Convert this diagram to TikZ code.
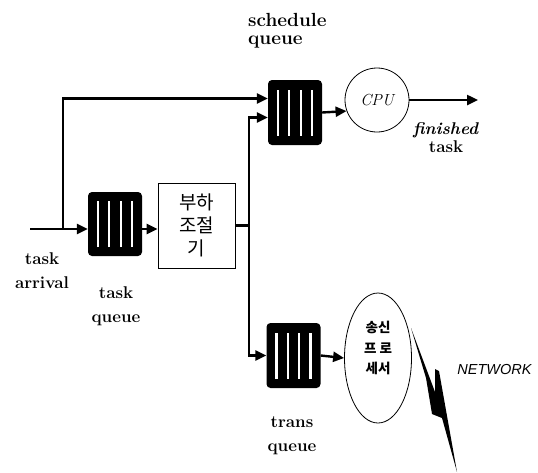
\documentclass[tikz,border=0pt]{standalone}
\usepackage{fontspec}
\newfontfamily\hangul{Noto Sans CJK KR}
\newfontfamily\netfont{Liberation Sans}
\usetikzlibrary{arrows.meta,shapes.geometric}
\tikzset{
  flow/.style={-{Triangle[length=11pt,width=10pt]},line width=2.4pt}, % connector with tip
  wire/.style={line width=2.4pt},
  queue/.style={fill=black,rounded corners=4pt,minimum width=54pt,minimum height=64pt,inner sep=0pt,
    path picture={\foreach \dx in {-17,-5.7,5.7,17}
      \draw[white,line width=2.2pt] ([xshift=\dx pt,yshift=-23pt]path picture bounding box.center) -- ++(0,46pt);}},
  station/.style={draw,line width=0.8pt,align=center,inner sep=0pt},
  lbl/.style={font=\fontsize{17}{24}\selectfont\bfseries,align=center,inner sep=0pt},
}
\begin{document}
\begin{tikzpicture}[x=1pt,y=-1pt]
\useasboundingbox (0,0) rectangle (538,472);

\node[queue] (taskq) at (115,224) {};
\node[queue,minimum height=65pt] (schedq) at (295,112.5) {};
\node[queue,minimum height=65pt] (transq) at (293.5,355.5) {};
\node[station,minimum width=77pt,minimum height=85pt,font=\hangul\fontsize{19}{23}\selectfont] (ctrl) at (196.5,225.5) {부하\\조절\\기};
\node[station,circle,minimum size=64pt,font=\fontsize{16}{18}\selectfont\itshape] (cpu) at (377,100) {CPU};
\node[station,ellipse,minimum width=67pt,minimum height=130pt,
  label={[align=center,yshift=10pt,font=\hangul\fontsize{13.5}{20.5}\selectfont\bfseries]center:송신\\프 로\\세서}] (sender) at (378,358) {};

\coordinate (arrival) at (30,229);
\coordinate (split) at (63,229);
\coordinate (bus) at (249,225.5);
\coordinate (done) at (478,100);

\draw[flow] (arrival) -- (taskq.west |- arrival);
\draw[flow] (split) |- ([yshift=14pt]schedq.west);
\draw[flow] (taskq.east |- arrival) -- (ctrl.west |- arrival);
\draw[wire] (ctrl.east) -- (bus);
\draw[flow] (bus) |- ([yshift=-5pt]schedq.west);
\draw[flow] (bus) |- (transq.west);
\draw[flow] (schedq.east) -- (cpu.200);
\draw[flow] (cpu.east) -- (done);
\draw[flow] (transq.east) -- (sender.west);

% network link
\fill (411,328) -- (435,392) -- (435,369) -- (439,371) -- (457,472) -- (442,418) -- (432,414) -- (426,378) -- cycle;

\node[lbl,font=\fontsize{19}{18}\selectfont\bfseries,anchor=north west,align=left] (schedlbl) at (248,13) {schedule\\queue};
\node[lbl] (arrlbl) at (42,271) {task\\arrival};
\node[lbl] (taskqlbl) at (116,306) {task\\queue};
\node[lbl] (transqlbl) at (292,436) {trans\\queue};
\node[lbl,font=\fontsize{17}{18}\selectfont\bfseries] (donelbl) at (446,138) {\textit{finished}\\task};
\node[inner sep=0pt,font=\netfont\fontsize{14.5}{16}\selectfont\itshape] (netlbl) at (494.5,370) {NETWORK};
\end{tikzpicture}
\end{document}
